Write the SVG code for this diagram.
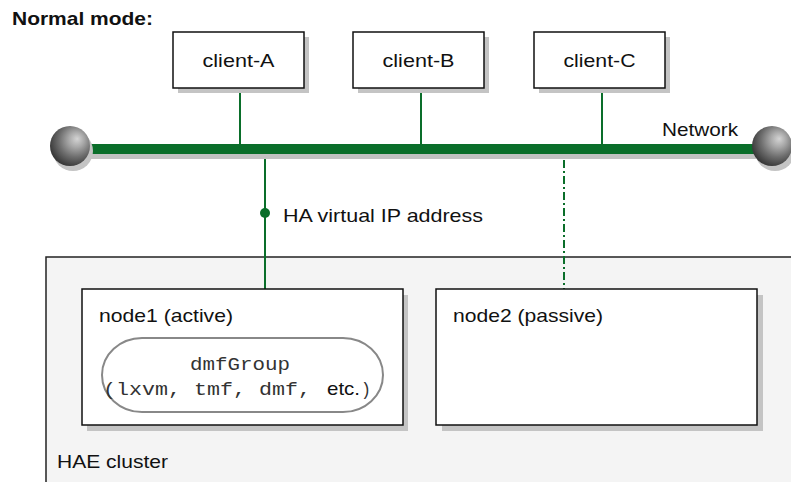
<svg xmlns="http://www.w3.org/2000/svg" width="791" height="482" viewBox="0 0 791 482">
<style>
  .t{font-family:"Liberation Sans",Arial,sans-serif;font-size:18.5px;fill:#111;}
  .b{font-weight:bold;}
  .m{font-family:"Liberation Mono","Courier New",monospace;font-size:18px;fill:#333;}
  .box{fill:#fff;stroke:#111;stroke-width:1.5;}
  .sh{fill:#c4c4c4;}
  .g{stroke:#0a6e2a;stroke-width:2;fill:none;}
</style>
<defs>
  <radialGradient id="ball" cx="0.62" cy="0.38" r="0.64" fx="0.68" fy="0.32">
    <stop offset="0" stop-color="#d4d4d4"/>
    <stop offset="0.3" stop-color="#a8a8a8"/>
    <stop offset="0.65" stop-color="#6e6e6e"/>
    <stop offset="1" stop-color="#3a3a3a"/>
  </radialGradient>
</defs>
<text class="t b" x="12" y="25" textLength="141" lengthAdjust="spacingAndGlyphs">Normal mode:</text>

<g id="cluster">
  <rect x="46" y="257" width="760" height="240" fill="#f4f4f4" stroke="#222" stroke-width="1.5"/>
  <text class="t" x="57" y="468" textLength="111" lengthAdjust="spacingAndGlyphs">HAE cluster</text>
</g>

<g id="connectors">
  <line x1="90" y1="154" x2="756" y2="154" stroke="#c2c2c2" stroke-width="10"/>
  <line x1="90" y1="149" x2="756" y2="149" stroke="#0a6e2a" stroke-width="10"/>
  <line class="g" x1="240" y1="88" x2="240" y2="144"/>
  <line class="g" x1="421" y1="88" x2="421" y2="144"/>
  <line class="g" x1="602" y1="88" x2="602" y2="144"/>
  <line class="g" x1="265" y1="159" x2="265" y2="289"/>
  <circle cx="265" cy="213" r="5" fill="#0a6e2a"/>
  <line class="g" x1="564" y1="160" x2="564" y2="289" stroke-dasharray="8,3,2,3"/>
  <text class="t" x="283" y="222" textLength="200" lengthAdjust="spacingAndGlyphs">HA virtual IP address</text>
  <text class="t" x="662" y="136" textLength="76" lengthAdjust="spacingAndGlyphs">Network</text>
</g>

<g id="ball-left">
  <circle cx="73" cy="151" r="20" fill="#c4c4c4"/>
  <circle cx="70" cy="146" r="20" fill="url(#ball)"/>
</g>
<g id="ball-right">
  <circle cx="775" cy="151" r="20" fill="#c4c4c4"/>
  <circle cx="772" cy="146" r="20" fill="url(#ball)"/>
</g>

<g id="client-A">
  <rect class="sh" x="178" y="37" width="131" height="56"/>
  <rect class="box" x="173" y="32" width="131" height="56"/>
  <text class="t" x="238.5" y="67" text-anchor="middle" textLength="72" lengthAdjust="spacingAndGlyphs">client-A</text>
</g>
<g id="client-B">
  <rect class="sh" x="358" y="37" width="131" height="56"/>
  <rect class="box" x="353" y="32" width="131" height="56"/>
  <text class="t" x="418.5" y="67" text-anchor="middle" textLength="72" lengthAdjust="spacingAndGlyphs">client-B</text>
</g>
<g id="client-C">
  <rect class="sh" x="539" y="37" width="131" height="56"/>
  <rect class="box" x="534" y="32" width="131" height="56"/>
  <text class="t" x="599.5" y="67" text-anchor="middle" textLength="72" lengthAdjust="spacingAndGlyphs">client-C</text>
</g>

<g id="node1">
  <rect class="sh" x="87" y="295" width="321" height="136"/>
  <rect class="box" x="82" y="289" width="321" height="136"/>
  <text class="t" x="99" y="322" textLength="134" lengthAdjust="spacingAndGlyphs">node1 (active)</text>
</g>
<g id="dmfGroup">
  <rect x="102" y="338" width="281" height="74" rx="40" ry="37" fill="#fff" stroke="#888" stroke-width="2"/>
  <text class="m" x="190" y="370" textLength="100" lengthAdjust="spacingAndGlyphs">dmfGroup</text>
  <text class="m" x="103" y="395" textLength="208" lengthAdjust="spacingAndGlyphs">(lxvm, tmf, dmf,</text>
  <text class="t" x="327" y="395" textLength="33" lengthAdjust="spacingAndGlyphs">etc.</text>
  <text class="m" x="361" y="395" textLength="10" lengthAdjust="spacingAndGlyphs">)</text>
</g>
<g id="node2">
  <rect class="sh" x="442" y="295" width="321" height="136"/>
  <rect class="box" x="436" y="289" width="321" height="136"/>
  <text class="t" x="453" y="322" textLength="150" lengthAdjust="spacingAndGlyphs">node2 (passive)</text>
</g>
</svg>
